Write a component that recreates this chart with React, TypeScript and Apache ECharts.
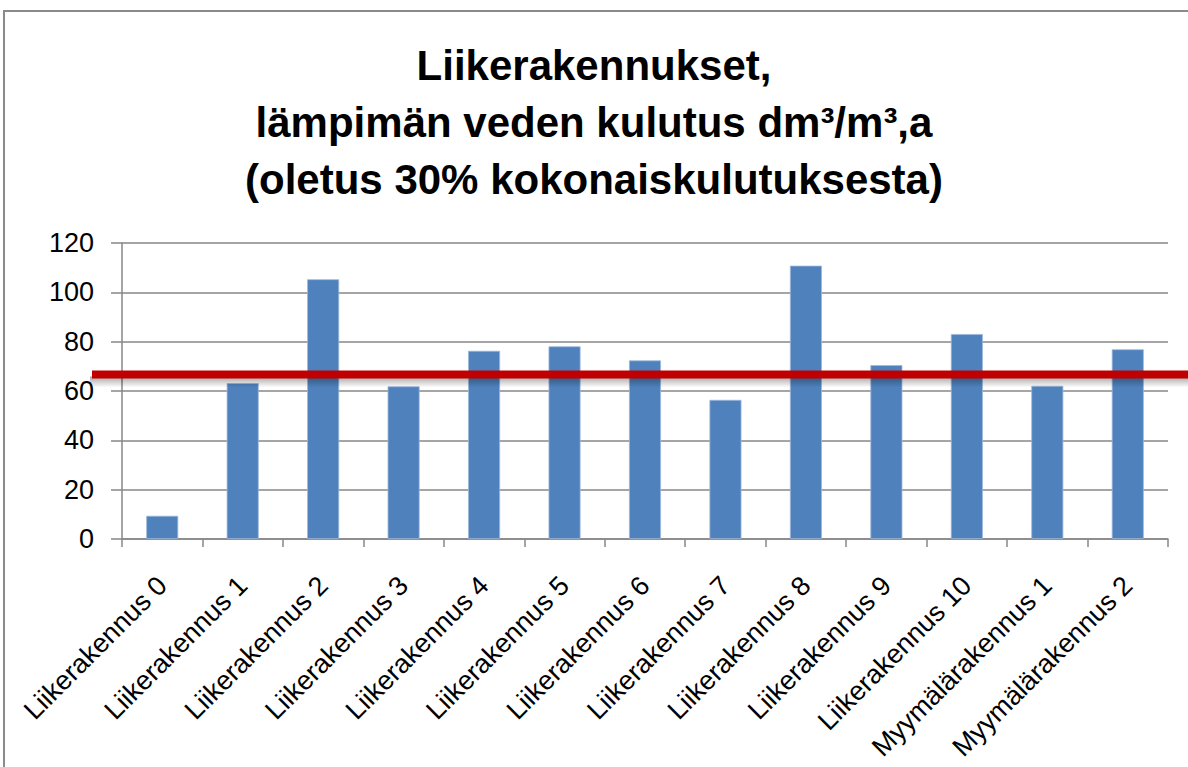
import React, { useEffect, useRef } from "react";
import * as echarts from "echarts";

const categories = [
  "Liikerakennus 0",
  "Liikerakennus 1",
  "Liikerakennus 2",
  "Liikerakennus 3",
  "Liikerakennus 4",
  "Liikerakennus 5",
  "Liikerakennus 6",
  "Liikerakennus 7",
  "Liikerakennus 8",
  "Liikerakennus 9",
  "Liikerakennus 10",
  "Myymälärakennus 1",
  "Myymälärakennus 2",
];
const values = [9.4, 63.2, 105.3, 61.9, 76.3, 78.1, 72.4, 56.4, 110.8, 70.5, 83.1, 62.1, 76.9];
const referenceValue = 66.7;
const titleLines = [
  "Liikerakennukset,",
  "lämpimän veden kulutus dm³/m³,a",
  "(oletus 30% kokonaiskulutuksesta)",
];

export default function App() {
  const ref = useRef<HTMLDivElement>(null);
  useEffect(() => {
    if (!ref.current) return;
    const chart = echarts.init(ref.current, null, { renderer: "svg" });
    const font = "'Liberation Sans', Arial, sans-serif";
    chart.setOption({
      animation: false,
      backgroundColor: "#ffffff",
      title: titleLines.map((t, i) => ({
        text: t,
        left: "center",
        top: 44 + 57 * i,
        padding: 0,
        textStyle: {
          fontFamily: font,
          fontWeight: "bold",
          fontSize: 42,
          color: "#000000",
        },
      })),
      grid: { left: 122, right: 20, top: 243, bottom: 228, containLabel: false },
      xAxis: {
        type: "category",
        data: categories,
        axisLine: { show: true, lineStyle: { color: "#878787", width: 1.5 } },
        axisTick: { show: true, length: 8, lineStyle: { color: "#878787", width: 1.5 } },
        axisLabel: {
          rotate: 45,
          interval: 0,
          margin: 42,
          fontFamily: font,
          fontSize: 27,
          color: "#000000",
        },
      },
      yAxis: {
        type: "value",
        min: 0,
        max: 120,
        interval: 20,
        axisLine: { show: true, lineStyle: { color: "#878787", width: 1.5 } },
        axisTick: { show: true, length: 11, lineStyle: { color: "#878787", width: 1.5 } },
        splitLine: { show: true, lineStyle: { color: "#878787", width: 1.5 } },
        axisLabel: {
          margin: 28,
          fontFamily: font,
          fontSize: 27,
          color: "#000000",
        },
      },
      series: [
        {
          type: "bar",
          data: values,
          barWidth: 32,
          itemStyle: { color: "#4F81BD", borderColor: "#9DB8DA", borderWidth: 0.8 },
        },
      ],
    });
    const pt = chart.convertToPixel({ gridIndex: 0 }, [0, referenceValue]) as number[];
    const yPix = pt && isFinite(pt[1]) ? pt[1] : 374;
    chart.setOption({
      graphic: [
        {
          id: "frame",
          type: "rect",
          shape: { x: 4, y: 11, width: 1300, height: 900 },
          style: { fill: "none", stroke: "#8a8a8a", lineWidth: 2 },
          silent: true,
        },
        {
          id: "refshadow",
          type: "rect",
          shape: { x: 90, y: yPix + 2, width: 1100, height: 11 },
          style: {
            fill: new echarts.graphic.LinearGradient(0, 0, 0, 1, [
              { offset: 0, color: "rgba(0,0,0,0.35)" },
              { offset: 1, color: "rgba(0,0,0,0)" },
            ]),
          },
          z: 99,
          silent: true,
        },
        {
          id: "refline",
          type: "rect",
          shape: { x: 92, y: yPix - 4, width: 1100, height: 8 },
          style: { fill: "#C00000" },
          z: 100,
          silent: true,
        },
      ],
    });
    return () => chart.dispose();
  }, []);
  return (
    <div
      ref={ref}
      style={{ position: "absolute", left: 0, top: 0, width: 1188, height: 767 }}
    />
  );
}
